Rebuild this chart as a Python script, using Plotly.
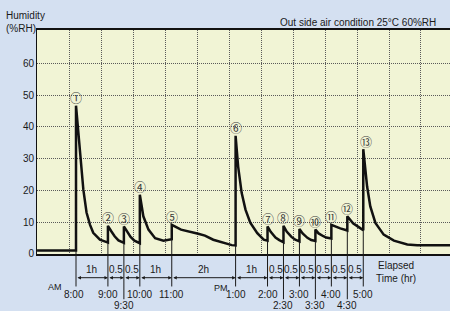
import plotly.graph_objects as go

# ---- data ----
# elapsed clock time in hours (8.0 = 8:00 AM, 13.0 = 1:00 PM ...)
time_h = [6.78, 8.0, 8.0, 8.07, 8.15, 8.23, 8.33, 8.44, 8.54, 8.75, 9.0,
          9.0, 9.11, 9.21, 9.33, 9.5,
          9.5, 9.61, 9.71, 9.83, 10.0,
          10.0, 10.11, 10.27, 10.48, 10.74, 10.92, 11.0,
          11.0, 11.29, 11.83, 12.04, 12.3, 12.61, 12.88, 13.0,
          13.0, 13.08, 13.19, 13.31, 13.46, 13.68, 13.88, 14.0,
          14.0, 14.1, 14.25, 14.37, 14.5,
          14.5, 14.6, 14.75, 14.87, 15.0,
          15.0, 15.1, 15.25, 15.37, 15.5,
          15.5, 15.6, 15.75, 15.84, 16.0,
          16.0, 16.28, 16.5,
          16.5, 16.68, 16.87, 17.0,
          17.0, 17.12, 17.22, 17.38, 17.64, 17.96, 18.38, 18.69, 19.72]
humidity = [1.0, 1.0, 46.7, 38.2, 28.7, 20.2, 13.0, 9.1, 6.6, 4.4, 3.5,
            8.8, 7.0, 5.5, 4.2, 3.4,
            8.6, 6.8, 5.3, 4.1, 3.3,
            18.6, 11.8, 7.6, 4.9, 4.1, 4.4, 4.6,
            9.1, 7.6, 6.3, 5.7, 4.4, 3.4, 2.7, 2.6,
            37.2, 27.5, 19.2, 13.9, 9.8, 6.5, 4.4, 4.1,
            8.6, 6.9, 5.1, 4.3, 3.6,
            8.8, 7.0, 5.3, 4.4, 3.9,
            7.8, 6.4, 5.0, 4.3, 4.0,
            7.6, 6.4, 5.5, 5.1, 4.8,
            9.1, 8.0, 7.3,
            11.8, 9.6, 8.3, 7.4,
            33.0, 21.2, 14.9, 9.7, 6.0, 4.1, 2.9, 2.7, 2.7]

event_times = [8.0, 9.0, 9.5, 10.0, 11.0, 13.0, 14.0, 14.5, 15.0, 15.5, 16.0, 16.5, 17.0]
event_marks = ["①", "②", "③", "④", "⑤", "⑥", "⑦", "⑧", "⑨", "⑩", "⑪", "⑫", "⑬"]
event_clock = ["8:00", "9:00", "9:30", "10:00", "11:00", "1:00", "2:00", "2:30",
               "3:00", "3:30", "4:00", "4:30", "5:00"]
interval_labels = ["1h", "0.5", "0.5", "1h", "2h", "1h", "0.5", "0.5", "0.5", "0.5", "0.5", "0.5"]
y_ticks = [0, 10, 20, 30, 40, 50, 60]
y_tick_labels = ["0", "10", "20", "30", "40", "50", "60"]

# ---- style ----
FONT = "Liberation Sans, Arial, Helvetica, sans-serif"
CJK = "Noto Sans CJK JP"
INK = "#1a1a1a"
Y_INTERVAL = -0.0714
Y_ARROW = -0.1058
Y_CLOCK = -0.180
Y_CLOCK_HALF = -0.231
LINE_END = -0.145
LINE_END_HALF = -0.202

fig = go.Figure()
fig.add_trace(go.Scatter(x=time_h, y=humidity, mode="lines",
                         line=dict(color="#111111", width=2.5),
                         hoverinfo="skip", showlegend=False))

shapes = []
annotations = []
for i, (t, mark, clock) in enumerate(zip(event_times, event_marks, event_clock)):
    vals = [h for x, h in zip(time_h, humidity) if x == t]
    base, peak = min(vals), max(vals)
    half = abs(t - round(t)) > 0.01
    # thin marker line inside plot from bottom up to curve
    shapes.append(dict(type="line", xref="x", yref="y", x0=t, x1=t, y0=-2, y1=base,
                       line=dict(color=INK, width=1)))
    # continuation below the plot
    shapes.append(dict(type="line", xref="x", yref="paper", x0=t, x1=t, y0=0,
                       y1=LINE_END_HALF if half else LINE_END,
                       line=dict(color=INK, width=1)))
    annotations.append(dict(x=t, y=peak, xref="x", yref="y", text=mark, showarrow=False,
                            yshift=8, xshift=3 if i == len(event_times) - 1 else 0,
                            font=dict(family=CJK, size=12, color="#3a3a3a")))
    annotations.append(dict(x=t, y=Y_CLOCK_HALF if half else Y_CLOCK, xref="x", yref="paper",
                            text=clock, showarrow=False, yanchor="middle",
                            xshift=-2 if i == 0 else 0,
                            font=dict(family=FONT, size=10, color=INK)))

for a, b, lab in zip(event_times[:-1], event_times[1:], interval_labels):
    annotations.append(dict(x=b, y=Y_ARROW, xref="x", yref="paper", ax=a, axref="x",
                            ay=0, ayref="pixel", text="", showarrow=True,
                            arrowhead=2, startarrowhead=2, arrowside="end+start",
                            arrowsize=0.7, startarrowsize=0.7, arrowwidth=1,
                            arrowcolor=INK, standoff=0, startstandoff=0))
    annotations.append(dict(x=(a + b) / 2, y=Y_INTERVAL, xref="x", yref="paper", text=lab,
                            showarrow=False, yanchor="middle",
                            font=dict(family=FONT, size=10, color=INK)))

annotations += [
    dict(x=event_times[0], y=-0.147, xref="x", yref="paper", text="AM", showarrow=False,
         xanchor="right", xshift=-12, yanchor="middle", font=dict(family=FONT, size=9, color=INK)),
    dict(x=event_times[5], y=-0.152, xref="x", yref="paper", text="PM", showarrow=False,
         xanchor="right", xshift=-6, yanchor="middle", font=dict(family=FONT, size=9, color=INK)),
    dict(x=0.870, y=-0.080, xref="paper", yref="paper", text="Elapsed<br>Time (hr)",
         showarrow=False, xanchor="center", yanchor="middle", align="center",
         font=dict(family=FONT, size=10, color=INK)),
    dict(x=-0.0799, y=1.036, xref="paper", yref="paper", text="Humidity<br>(%RH)",
         showarrow=False, xanchor="left", yanchor="middle", align="left",
         font=dict(family=FONT, size=10, color=INK)),
    dict(x=0.970, y=1.032, xref="paper", yref="paper", text="Out side air condition 25°C 60%RH",
         showarrow=False, xanchor="right", yanchor="middle",
         font=dict(family=FONT, size=10, color=INK)),
]

fig.update_layout(
    width=450, height=311,
    margin=dict(l=37, r=0, t=30, b=57, pad=0),
    paper_bgcolor="#d4e0f1",
    plot_bgcolor="#f1f4d5",
    showlegend=False,
    hovermode=False,
    shapes=shapes,
    annotations=annotations,
    font=dict(family=FONT, size=10, color=INK),
    xaxis=dict(range=[6.778, 19.717], tick0=7.806, dtick=1, showticklabels=False,
               ticks="", showgrid=True, gridcolor="#5a5a5a", griddash="1px,1px", gridwidth=1,
               zeroline=False, showline=True, linecolor="#111111", linewidth=1.5, mirror=True),
    yaxis=dict(range=[-0.1, 70.6], tickvals=y_ticks, ticktext=y_tick_labels,
               ticks="", showgrid=True, gridcolor="#5a5a5a", griddash="1px,1px", gridwidth=1,
               zeroline=False, showline=True, linecolor="#111111", linewidth=1, mirror=False,
               tickfont=dict(family=FONT, size=10, color=INK)),
)

fig.write_html("out.html", config={"displayModeBar": False},
               post_script="document.body.style.margin='0';document.body.style.overflow='hidden';")
